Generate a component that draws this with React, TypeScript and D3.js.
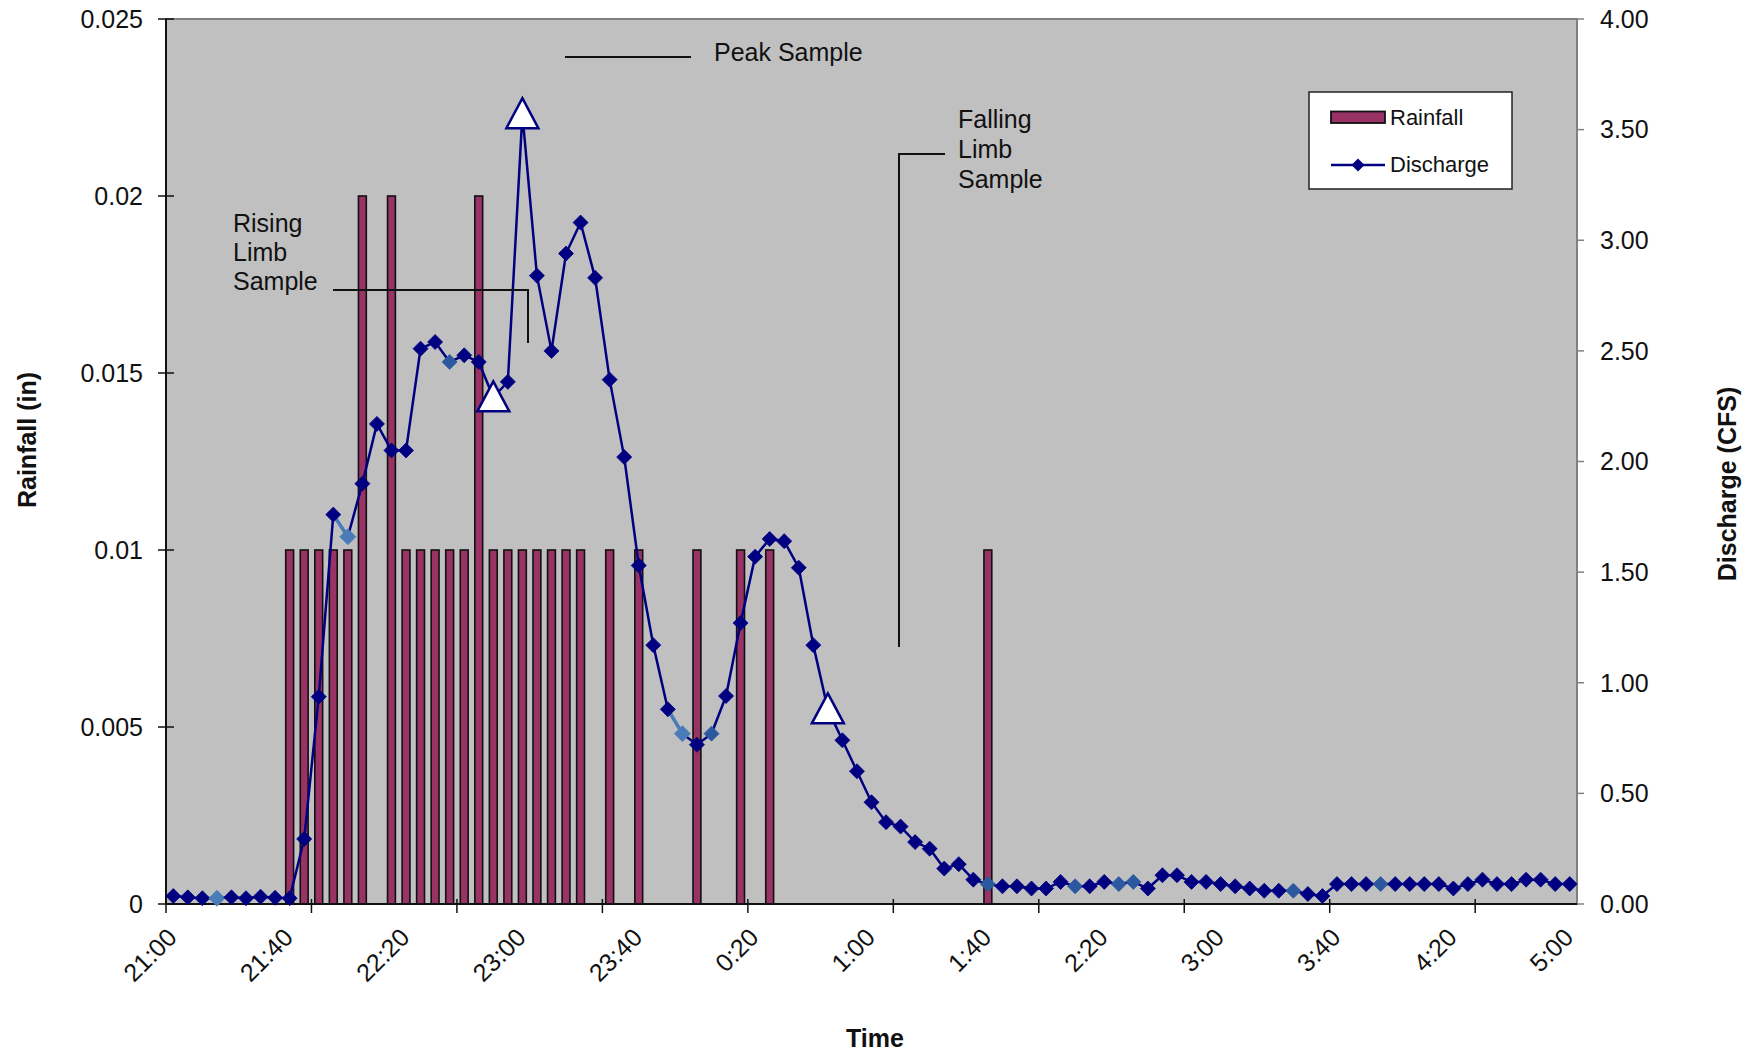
import * as d3 from "d3";

// discharge (CFS), one reading every 5 minutes from 21:00 to 5:00
const discharge = [
  0.036, 0.03, 0.026, 0.026, 0.03, 0.026, 0.033, 0.028, 0.026, 0.294,
  0.937, 1.76, 1.66, 1.9, 2.17, 2.05, 2.05, 2.51, 2.54, 2.45,
  2.48, 2.45, 2.29, 2.36, 3.57, 2.84, 2.5, 2.94, 3.08, 2.83,
  2.37, 2.02, 1.53, 1.17, 0.88, 0.77, 0.72, 0.77, 0.94, 1.27,
  1.57, 1.65, 1.64, 1.52, 1.17, 0.88, 0.74, 0.6, 0.46, 0.37,
  0.35, 0.28, 0.25, 0.16, 0.18, 0.11, 0.09, 0.08, 0.08, 0.07,
  0.07, 0.1, 0.08, 0.08, 0.1, 0.09, 0.1, 0.07, 0.13, 0.13,
  0.1, 0.1, 0.09, 0.08, 0.07, 0.06, 0.06, 0.06, 0.045, 0.036,
  0.09, 0.09, 0.09, 0.09, 0.09, 0.09, 0.09, 0.09, 0.07, 0.09,
  0.11, 0.09, 0.09, 0.11, 0.11, 0.09, 0.09,
];

// rainfall (in): index of the 5-minute slot and amount
const rainSlots = [8, 9, 10, 11, 12, 13, 15, 16, 17, 18, 19, 20, 21, 22, 23, 24, 25, 26, 27, 28, 30, 32, 36, 39, 41, 56];
const rainValues = [0.01, 0.01, 0.01, 0.01, 0.01, 0.02, 0.02, 0.01, 0.01, 0.01, 0.01, 0.01, 0.02, 0.01, 0.01, 0.01, 0.01, 0.01, 0.01, 0.01, 0.01, 0.01, 0.01, 0.01, 0.01, 0.01];

// sampled points (triangles) and points shown in lighter blue
const sampleSlots = [22, 24, 45];
const lightSlots = [3, 12, 19, 35, 37, 56, 62, 65, 66, 77, 83];
const paleSlots = [3, 12, 35];

const timeLabels = ["21:00", "21:40", "22:20", "23:00", "23:40", "0:20", "1:00", "1:40", "2:20", "3:00", "3:40", "4:20", "5:00"];
const rainTicks = [0, 0.005, 0.01, 0.015, 0.02, 0.025];
const rainTickLabels = ["0", "0.005", "0.01", "0.015", "0.02", "0.025"];
const dischargeTicks = [0, 0.5, 1, 1.5, 2, 2.5, 3, 3.5, 4];

const font = "'Liberation Sans', Arial, sans-serif";

export default function App() {
  const width = 1764;
  const height = 1056;
  const plot = { left: 166, right: 1577, top: 19, bottom: 904 };

  const x = d3.scaleBand<number>().domain(d3.range(discharge.length)).range([plot.left, plot.right]);
  const cx = (i: number) => (x(i) ?? 0) + x.bandwidth() / 2;
  const yRain = d3.scaleLinear().domain([0, 0.025]).range([plot.bottom, plot.top]);
  const yQ = d3.scaleLinear().domain([0, 4]).range([plot.bottom, plot.top]);

  const line = d3
    .line<number>()
    .x((_, i) => cx(i))
    .y((d) => yQ(d));

  const barW = x.bandwidth() * 0.54;
  const diamond = (r: number) => `M0,${-r}L${r},0L0,${r}L${-r},0Z`;
  const triangle = "M0,-16L16,14L-16,14Z";

  const markerFill = (i: number) =>
    paleSlots.includes(i) ? "#4a7cb8" : lightSlots.includes(i) ? "#2c58a0" : "#000080";

  return (
    <div style={{ position: "absolute", left: 0, top: 0 }}>
      <svg width={width} height={height} style={{ display: "block", fontFamily: font }}>
        <rect width={width} height={height} fill="#ffffff" />
        <rect
          x={plot.left}
          y={plot.top}
          width={plot.right - plot.left}
          height={plot.bottom - plot.top}
          fill="#c0c0c0"
          stroke="#808080"
          strokeWidth={2}
        />

        {/* rainfall columns */}
        {rainSlots.map((s, k) => (
          <rect
            key={`r-${s}`}
            x={cx(s) - barW / 2}
            y={yRain(rainValues[k])}
            width={barW}
            height={plot.bottom - yRain(rainValues[k])}
            fill="#993366"
            stroke="#111"
            strokeWidth={1.6}
          />
        ))}

        {/* axes */}
        <line x1={plot.left} x2={plot.left} y1={plot.top} y2={plot.bottom} stroke="#111" strokeWidth={2} />
        <line x1={plot.left} x2={plot.right} y1={plot.bottom} y2={plot.bottom} stroke="#111" strokeWidth={2} />

        {rainTicks.map((t, i) => (
          <g key={`lt-${t}`}>
            <line x1={plot.left - 8} x2={plot.left + 8} y1={yRain(t)} y2={yRain(t)} stroke="#111" strokeWidth={1.5} />
            <text x={143} y={yRain(t)} dy="0.35em" textAnchor="end" fontSize={25} fill="#111">
              {rainTickLabels[i]}
            </text>
          </g>
        ))}

        {dischargeTicks.map((t) => (
          <g key={`rt-${t}`}>
            <line x1={plot.right} x2={plot.right + 7} y1={yQ(t)} y2={yQ(t)} stroke="#808080" strokeWidth={1.5} />
            <text x={1600} y={yQ(t)} dy="0.35em" fontSize={25} fill="#111">
              {d3.format(".2f")(t)}
            </text>
          </g>
        ))}

        {d3.range(0, discharge.length, 10).map((i) => (
          <line key={`xt-${i}`} x1={x(i)} x2={x(i)} y1={plot.bottom - 5} y2={plot.bottom + 9} stroke="#111" strokeWidth={1.5} />
        ))}

        {timeLabels.map((lab, k) => (
          <text
            key={lab}
            transform={`translate(${cx(k * 8) + 5},${939}) rotate(-45)`}
            textAnchor="end"
            fontSize={25}
            fill="#111"
          >
            {lab}
          </text>
        ))}

        {/* discharge line */}
        <path d={line(discharge) ?? ""} fill="none" stroke="#000080" strokeWidth={2.5} />
        {paleSlots
          .filter((s) => s > 0)
          .map((s) => (
            <line
              key={`pl-${s}`}
              x1={cx(s - 1)}
              y1={yQ(discharge[s - 1])}
              x2={cx(s)}
              y2={yQ(discharge[s])}
              stroke="#4a7cb8"
              strokeWidth={3.5}
            />
          ))}
        {discharge.map((d, i) =>
          sampleSlots.includes(i) ? null : (
            <path
              key={`m-${i}`}
              d={diamond(paleSlots.includes(i) ? 8 : 7.5)}
              transform={`translate(${cx(i)},${yQ(d)})`}
              fill={markerFill(i)}
              stroke={markerFill(i)}
              strokeWidth={0.8}
            />
          )
        )}
        {sampleSlots.map((s) => (
          <path
            key={`s-${s}`}
            d={triangle}
            transform={`translate(${cx(s)},${yQ(discharge[s])})`}
            fill="#ffffff"
            stroke="#000080"
            strokeWidth={2.5}
          />
        ))}

        {/* sample annotations */}
        <g fontSize={25} fill="#111">
          <text x={233} y={232}>Rising</text>
          <text x={233} y={261}>Limb</text>
          <text x={233} y={290}>Sample</text>
          <text x={714} y={61}>Peak Sample</text>
          <text x={958} y={128}>Falling</text>
          <text x={958} y={158}>Limb</text>
          <text x={958} y={188}>Sample</text>
        </g>
        <g fill="none" stroke="#111" strokeWidth={2}>
          <polyline points={`333,290 528,290 528,343`} />
          <line x1={565} x2={691} y1={57} y2={57} />
          <polyline points={`945,154 899,154 899,647`} />
        </g>

        {/* legend */}
        <g>
          <rect x={1309} y={92} width={203} height={97} fill="#ffffff" stroke="#222" strokeWidth={1.5} />
          <rect x={1331} y={111.5} width={54} height={11.5} fill="#993366" stroke="#111" strokeWidth={1.8} />
          <text x={1390} y={125} fontSize={22} fill="#111">Rainfall</text>
          <line x1={1331} x2={1385} y1={165} y2={165} stroke="#000080" strokeWidth={2.5} />
          <path d={diamond(6.5)} transform="translate(1358,165)" fill="#000080" />
          <text x={1390} y={172} fontSize={22} fill="#111">Discharge</text>
        </g>

        {/* axis titles */}
        <text transform="translate(36,440) rotate(-90)" textAnchor="middle" fontSize={25} fontWeight="bold" fill="#111">
          Rainfall (in)
        </text>
        <text transform="translate(1736,484) rotate(-90)" textAnchor="middle" fontSize={25} fontWeight="bold" fill="#111">
          Discharge (CFS)
        </text>
        <text x={875} y={1047} textAnchor="middle" fontSize={25} fontWeight="bold" fill="#111">
          Time
        </text>
      </svg>
    </div>
  );
}
